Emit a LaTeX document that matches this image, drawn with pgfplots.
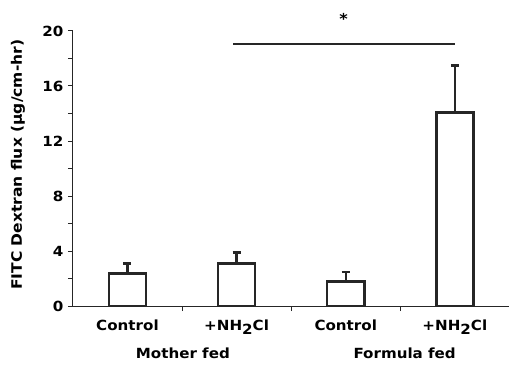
\documentclass[border=0pt]{standalone}
\usepackage{pgfplots}
\pgfplotsset{compat=1.18}
\usepackage{fontspec}
\setmainfont{DejaVu Sans}[FakeStretch=1.08]
\begin{document}
\begin{tikzpicture}
\begin{axis}[
  scale only axis,
  width=437pt, height=275.5pt,
  xmin=-0.5, xmax=3.5, ymin=0, ymax=20,
  clip=false,
  axis x line*=bottom, axis y line*=left,
  axis line style={-, line width=1.2pt, black!85},
  tick align=outside,
  ytick={0,4,8,12,16,20},
  minor ytick={2,6,10,14,18},
  xtick={0,1,2,3},
  xticklabels={Control,+NH\raisebox{-0.5ex}{2}Cl,Control,+NH\raisebox{-0.5ex}{2}Cl},
  minor xtick={0.5,1.5,2.5},
  major x tick style={draw=none},
  minor x tick style={line width=1pt, black!85},
  major y tick style={line width=1pt, black!85},
  minor y tick style={line width=1pt, black!85},
  major tick length=5pt, minor tick length=5pt,
  /pgf/number format/assume math mode=true,
  yticklabel style={font=\bfseries\fontsize{14}{16}\selectfont, xshift=-1pt},
  xticklabel style={font=\bfseries\fontsize{14}{16}\selectfont, yshift=-5pt},
  ylabel={FITC Dextran flux (µg/cm-hr)},
  every axis y label/.style={at={(rel axis cs:-0.126,0.514)}, rotate=90, anchor=center, font=\bfseries\fontsize{14.4}{16}\selectfont},
]
\path (rel axis cs:-0.167,-0.216) rectangle (rel axis cs:1,1.1125);
\addplot[ybar, bar width=0.34, fill=white, draw=black!85, line width=2.5pt,
  error bars/.cd, y dir=plus, y explicit,
  error bar style={line width=2.3pt, black!85},
  error mark options={rotate=90, mark size=4pt, line width=2.3pt, black!85}]
  coordinates {(0,2.39) +- (0,0.71) (1,3.1) +- (0,0.8) (2,1.8) +- (0,0.66) (3,14.06) +- (0,3.44)};
\draw[line width=2pt, black!85] (axis cs:0.97,19.05) -- (axis cs:3.0,19.05);
\node[font=\bfseries\fontsize{15}{16}\selectfont] at (axis cs:1.98,20.9) {*};
\node[font=\bfseries\fontsize{14}{16}\selectfont] at (rel axis cs:0.252,-0.172) {Mother fed};
\node[font=\bfseries\fontsize{14}{16}\selectfont] at (rel axis cs:0.76,-0.172) {Formula fed};
\end{axis}
\end{tikzpicture}
\end{document}
